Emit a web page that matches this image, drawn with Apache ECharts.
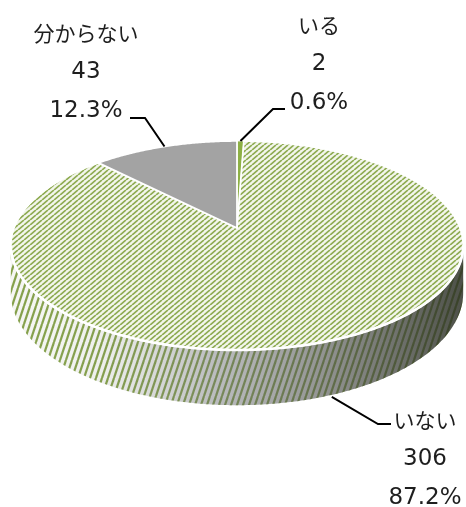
<!DOCTYPE html>
<html><head><meta charset="utf-8">
<script src="https://cdn.jsdelivr.net/npm/echarts@6/dist/echarts.min.js"></script>
<style>html,body{margin:0;padding:0;background:#fff}#c{width:466px;height:507px}</style>
</head><body><div id="c"></div>
<script>
// ---- data ----
const categories = ['いる', 'いない', '分からない'];
const counts = [2, 306, 43];

// ---- styling / layout (not data) ----
const GEO = { ax: 237, ay: 228, a: 223, b: 101.6, p: 0.167, h: 46 };
const LABEL_LAYOUT = [
  { cx: 319, y0: 25, line: [[285, 109], [273, 109]] },
  { cx: 425, y0: 420, line: [[391, 424], [378, 424]] },
  { cx: 86, y0: 33, line: [[130, 118], [145, 118]] }
];

function makeStripeCanvas(w, h, bg, fg, lw) {
  const c = document.createElement('canvas');
  c.width = w; c.height = h;
  const g = c.getContext('2d');
  g.fillStyle = bg; g.fillRect(0, 0, w, h);
  g.strokeStyle = fg; g.lineWidth = lw;
  for (let k = -1; k <= 1; k++) {
    g.beginPath();
    g.moveTo(k * w, h);
    g.lineTo(k * w + w, 0);
    g.stroke();
  }
  return c;
}
const topPattern = { image: makeStripeCanvas(6, 5, '#f3f6ec', '#8dab50', 1.7), repeat: 'repeat' };
const sidePattern = { image: makeStripeCanvas(6, 18, '#f5f6f3', '#84a04a', 2.2), repeat: 'repeat' };

function proj(theta, r, dz) {
  const t = theta * Math.PI / 180;
  const X = r * Math.sin(t), Y = r * Math.cos(t);
  const w = 1 + GEO.p * Y;
  return [GEO.ax + GEO.a * X / w, GEO.ay - GEO.b * Y / w + GEO.h * dz / w];
}
function arc(t0, t1, dz) {
  const pts = [];
  const n = Math.max(2, Math.ceil(Math.abs(t1 - t0) / 0.5));
  for (let k = 0; k <= n; k++) pts.push(proj(t0 + (t1 - t0) * k / n, 1, dz));
  return pts;
}
const total = counts.reduce((s, v) => s + v, 0);
const sliceColors = ['#8db045', topPattern, '#a3a3a3'];
const thetaSil = Math.acos(-GEO.p) * 180 / Math.PI;

function renderItem(params, api) {
  const i = params.dataIndex;
  const v = api.value(0);
  let before = 0;
  for (let k = 0; k < i; k++) before += counts[k];
  const t0 = before / total * 360, t1 = (before + v) / total * 360;
  const children = [];
  // side wall (front visible part)
  const s0 = Math.max(t0, thetaSil), s1 = Math.min(t1, 360 - thetaSil);
  if (s1 > s0) {
    const sidePts = arc(s0, s1, 0).concat(arc(s1, s0, 1));
    children.push({ type: 'polygon', shape: { points: sidePts }, style: { fill: sidePattern, stroke: null } });
    children.push({ type: 'polygon', shape: { points: sidePts }, style: {
      fill: { type: 'linear', x: 0, y: 0, x2: 1, y2: 0, global: false, colorStops: [
        { offset: 0, color: 'rgba(255,255,255,0)' },
        { offset: 0.2, color: 'rgba(120,122,130,0.06)' },
        { offset: 0.45, color: 'rgba(100,102,112,0.4)' },
        { offset: 0.72, color: 'rgba(70,72,70,0.6)' },
        { offset: 1, color: 'rgba(40,44,34,0.82)' }] }, stroke: null } });
  }
  // top face
  const topPts = [proj(0, 0, 0)].concat(arc(t0, t1, 0));
  children.push({ type: 'polygon', shape: { points: topPts }, style: {
    fill: sliceColors[i], stroke: '#ffffff', lineWidth: i === 0 ? 1 : 1.8, lineJoin: 'round' } });
  if (s1 > s0) {
    children.push({ type: 'polyline', shape: { points: arc(s0, s1, 0) },
      style: { stroke: '#ffffff', lineWidth: 2.6, fill: null } });
  }
  // label
  const L = LABEL_LAYOUT[i];
  const mid = (t0 + t1) / 2;
  const onFront = mid > thetaSil && mid < 360 - thetaSil;
  const anchor = proj(mid, 1, onFront ? 1 : 0);
  if (onFront) anchor[1] += 2;
  children.push({ type: 'polyline', shape: { points: L.line.concat([anchor]) },
    style: { stroke: '#000', lineWidth: 2, fill: null }, z2: 10 });
  const pct = (v / total * 100).toFixed(1) + '%';
  const lines = [
    { t: categories[i], f: '21px "Noto Sans CJK JP"' },
    { t: String(v), f: '23px "DejaVu Sans"' },
    { t: pct, f: '23px "DejaVu Sans"' }
  ];
  lines.forEach((ln, k) => {
    children.push({ type: 'text', z2: 10, style: {
      text: ln.t, x: L.cx, y: L.y0 + k * 39, align: 'center', verticalAlign: 'middle',
      font: ln.f, fill: '#1e1e1e' } });
  });
  return { type: 'group', children };
}

const chart = echarts.init(document.getElementById('c'), null, { renderer: 'canvas' });
chart.setOption({
  animation: false,
  backgroundColor: '#ffffff',
  series: [{
    type: 'custom',
    coordinateSystem: 'none',
    renderItem,
    data: counts.map((v, i) => ({ name: categories[i], value: [v, i] }))
  }]
});
</script>
</body></html>
